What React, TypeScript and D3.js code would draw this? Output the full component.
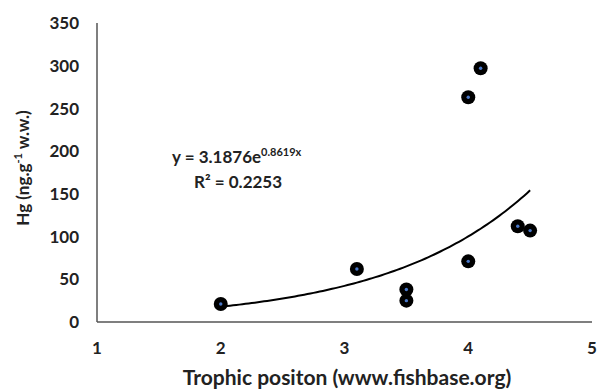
import React from "react";
import * as d3 from "d3";

const trophic = [2, 3.1, 3.5, 3.5, 4, 4, 4.1, 4.4, 4.5];
const hg = [21, 62, 38, 25, 71, 263, 297, 112, 107];
const xTicks = [1, 2, 3, 4, 5];
const yTicks = [0, 50, 100, 150, 200, 250, 300, 350];
const fitA = 3.1876;
const fitB = 0.8619;

const W = 600;
const H = 389;
const FONT = "Lato, 'Open Sans', sans-serif";

export default function App() {
  const x = d3.scaleLinear().domain([1, 5]).range([97, 592]);
  const y = d3.scaleLinear().domain([0, 350]).range([322, 23]);
  const xMin = d3.min(trophic) as number;
  const xMax = d3.max(trophic) as number;
  const fitX = d3.range(0, 101).map((i) => xMin + ((xMax - xMin) * i) / 100);
  const line = d3
    .line<number>()
    .x((d) => x(d))
    .y((d) => y(fitA * Math.exp(fitB * d)))
    .curve(d3.curveLinear);

  return (
    <svg
      width={W}
      height={H}
      style={{ position: "absolute", left: 0, top: 0, background: "#fff" }}
      fontFamily={FONT}
    >
      <rect width={W} height={H} fill="#fff" />
      <line x1={x(1)} x2={x(1)} y1={y(350)} y2={y(0)} stroke="#555" strokeWidth={1.5} />
      <line x1={x(1)} x2={x(5)} y1={y(0)} y2={y(0)} stroke="#555" strokeWidth={1.5} />
      {yTicks.map((t) => (
        <text key={t} x={79} y={y(t)} dy="0.36em" textAnchor="end" fontSize={17} fontWeight="bold" fill="#222">
          {t}
        </text>
      ))}
      {xTicks.map((t) => (
        <text key={t} x={x(t)} y={354} textAnchor="middle" fontSize={17} fontWeight="bold" fill="#222">
          {t}
        </text>
      ))}
      <text x={347} y={385} textAnchor="middle" fontSize={21} fontWeight="bold" fill="#222">
        Trophic positon (www.fishbase.org)
      </text>
      <text transform="translate(29,168) rotate(-90)" textAnchor="middle" fontSize={17} fontWeight="bold" fill="#222">
        Hg (ng.g<tspan dy="-7" fontSize={11}>-1</tspan>
        <tspan dy="7"> w.w.)</tspan>
      </text>
      <path d={line(fitX) || ""} fill="none" stroke="#000" strokeWidth={2} />
      {trophic.map((tx, i) => (
        <g key={i}>
          <circle cx={x(tx)} cy={y(hg[i])} r={7} fill="#000" />
          <circle cx={x(tx)} cy={y(hg[i])} r={1.7} fill="#4a78c8" />
        </g>
      ))}
      <text x={172} y={163} fontSize={17} fontWeight="bold" fill="#222">
        y = 3.1876e<tspan dy="-7" fontSize={11}>0.8619x</tspan>
      </text>
      <text x={194} y={188} fontSize={17} fontWeight="bold" fill="#222">
        R² = 0.2253
      </text>
    </svg>
  );
}
